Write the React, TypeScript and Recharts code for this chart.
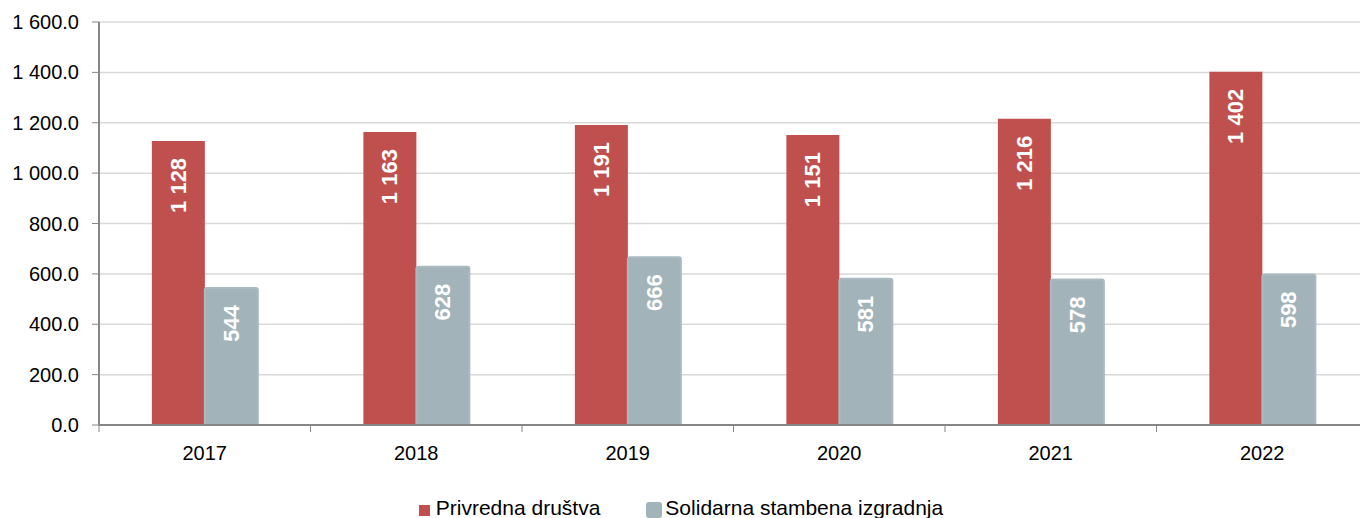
import React from 'react';
import { BarChart, Bar, XAxis, YAxis, CartesianGrid, Legend, LabelList } from 'recharts';

const YEARS = ['2017', '2018', '2019', '2020', '2021', '2022'];
const PRIVREDNA = [1128, 1163, 1191, 1151, 1216, 1402];
const SOLIDARNA = [544, 628, 666, 581, 578, 598];
const Y_TICKS = [0, 200, 400, 600, 800, 1000, 1200, 1400, 1600];

const RED = '#C0504D';
const GRAY = '#A2B4BA';
const AXIS = '#868686';
const FONT = '"Liberation Sans", Arial, sans-serif';

const data = YEARS.map((year, i) => ({ year, privredna: PRIVREDNA[i], solidarna: SOLIDARNA[i] }));

// 1600 -> "1 600"
const spaced = (n: number) => n.toString().replace(/\B(?=(\d{3})+(?!\d))/g, ' ');
const yFmt = (v: number) => {
  const [i, d] = v.toFixed(1).split('.');
  return spaced(Number(i)) + '.' + d;
};

const BarValue = (props: any) => {
  const { x, y, width, value } = props;
  const cx = x + width / 2;
  const ty = y + 17;
  return (
    <text
      x={cx}
      y={ty}
      transform={`rotate(-90 ${cx} ${ty})`}
      textAnchor="end"
      dominantBaseline="central"
      fill="#fff"
      fontFamily={FONT}
      fontWeight="bold"
      fontSize={22}
    >
      {spaced(value)}
    </text>
  );
};

// category label + tick marks on the band boundaries
const YearTick = (props: any) => {
  const { x, y, payload, index } = props;
  const off = payload.offset || 0;
  return (
    <g>
      <line x1={x - off} y1={425} x2={x - off} y2={432} stroke={AXIS} />
      {index === YEARS.length - 1 && <line x1={x + off} y1={425} x2={x + off} y2={432} stroke={AXIS} />}
      <text x={x} y={y} dy="0.71em" textAnchor="middle" fill="#000" fontFamily={FONT} fontSize={20}>
        {payload.value}
      </text>
    </g>
  );
};

const LegendBox = () => (
  <div style={{ display: 'flex', justifyContent: 'center', fontFamily: FONT, fontSize: 21, color: '#000', lineHeight: '24px', paddingLeft: 2 }}>
    <div style={{ display: 'flex', alignItems: 'center', marginRight: 46 }}>
      <span style={{ width: 11, height: 11, background: RED, display: 'inline-block', marginRight: 6, marginTop: 4 }} />
      Privredna društva
    </div>
    <div style={{ display: 'flex', alignItems: 'center' }}>
      <span style={{ width: 16, height: 16, background: GRAY, borderRadius: 3, display: 'inline-block', marginRight: 3, marginTop: 4 }} />
      Solidarna stambena izgradnja
    </div>
  </div>
);

export default function App() {
  return (
    <div style={{ position: 'absolute', left: 0, top: 0, width: 1360, height: 518, background: '#fff', overflow: 'hidden' }}>
      <BarChart
        width={1368}
        height={518}
        data={data}
        margin={{ top: 22, right: 0, left: 0, bottom: 0 }}
        barGap={0}
        barCategoryGap="25%"
      >
        <CartesianGrid vertical={false} stroke="#d9d9d9" strokeWidth={1.5} />
        <XAxis
          dataKey="year"
          height={93}
          axisLine={{ stroke: AXIS, strokeWidth: 2 }}
          tickLine={false}
          tickMargin={15}
          tick={<YearTick />}
          interval={0}
        />
        <YAxis
          width={99}
          domain={[0, 1600]}
          ticks={Y_TICKS}
          tickFormatter={yFmt}
          axisLine={{ stroke: AXIS, strokeWidth: 2 }}
          tickLine={{ stroke: AXIS }}
          tickSize={7}
          tickMargin={13}
          tick={{ fill: '#000', fontSize: 20, fontFamily: FONT }}
          interval={0}
        />
        <Legend
          layout="horizontal"
          verticalAlign="middle"
          align="center"
          wrapperStyle={{ top: 496, left: 0, width: 1360 }}
          content={<LegendBox />}
        />
        <Bar dataKey="privredna" name="Privredna društva" fill={RED} isAnimationActive={false}>
          <LabelList dataKey="privredna" content={<BarValue />} />
        </Bar>
        <Bar
          dataKey="solidarna"
          name="Solidarna stambena izgradnja"
          fill={GRAY}
          stroke="#a9bbc1"
          strokeWidth={2}
          radius={[2, 2, 0, 0]}
          isAnimationActive={false}
        >
          <LabelList dataKey="solidarna" content={<BarValue />} />
        </Bar>
      </BarChart>
    </div>
  );
}
